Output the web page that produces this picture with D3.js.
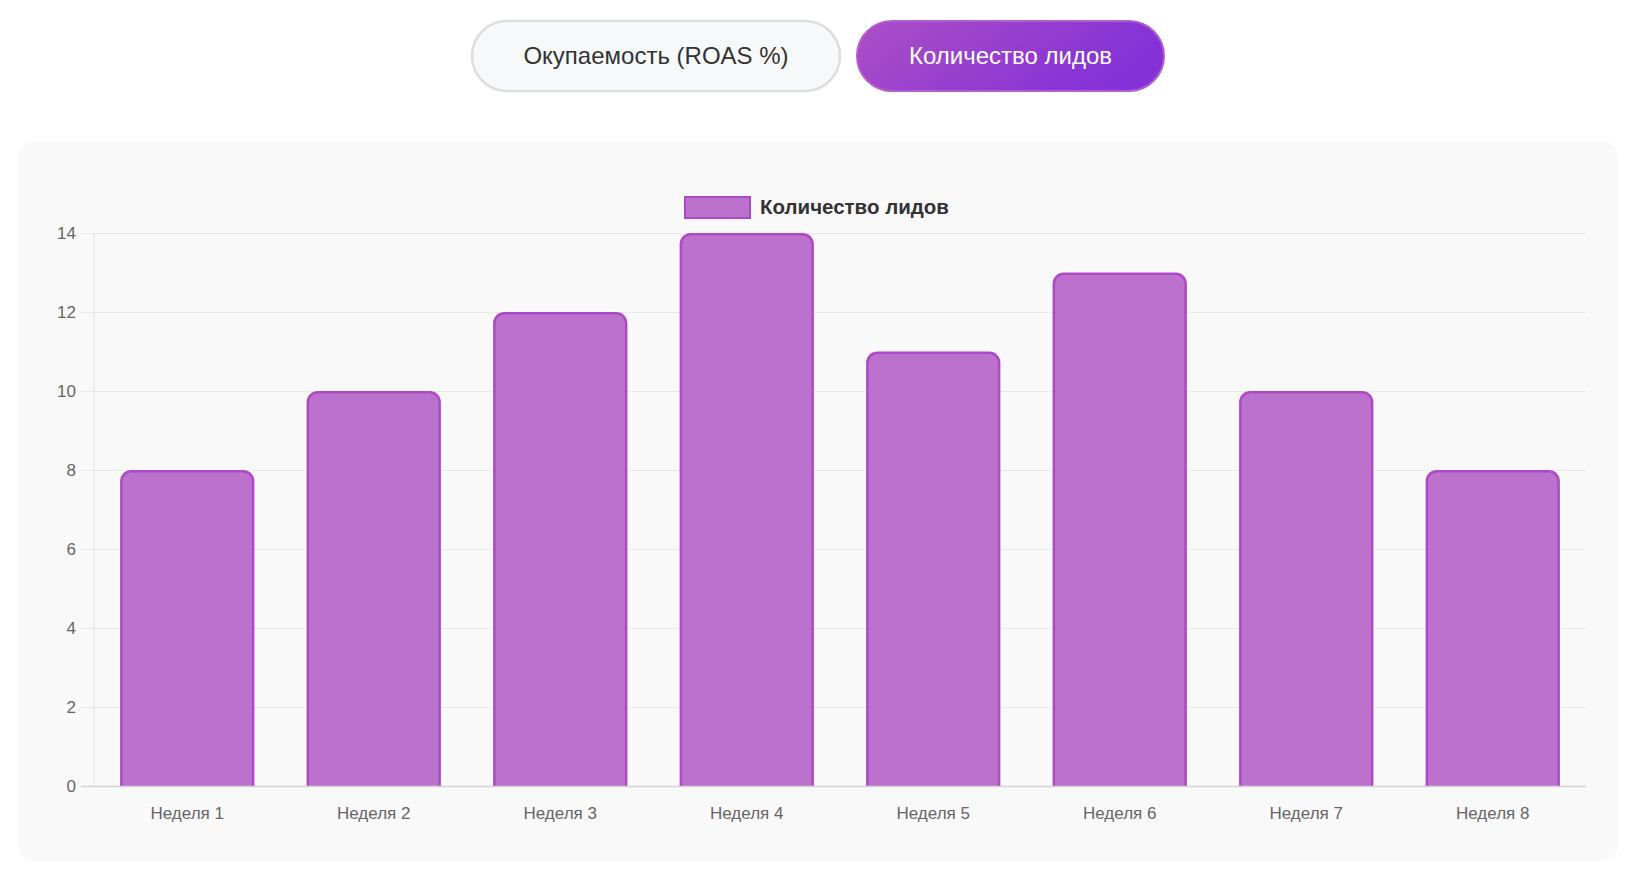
<!DOCTYPE html>
<html>
<head>
<meta charset="utf-8">
<script src="https://cdn.jsdelivr.net/npm/d3@7"></script>
<style>
	body { margin: 0; background: #ffffff; }
	svg { display: block; font-family: "Liberation Sans", Arial, Helvetica, sans-serif; }
</style>
</head>
<body>
<div id="chart"></div>
<script>
var w = 1638;
var h = 874;

var weeks = ["Неделя 1", "Неделя 2", "Неделя 3", "Неделя 4", "Неделя 5", "Неделя 6", "Неделя 7", "Неделя 8"];
var leads = [8, 10, 12, 14, 11, 13, 10, 8];
var yTicks = [0, 2, 4, 6, 8, 10, 12, 14];
var buttonLabels = ["Окупаемость (ROAS %)", "Количество лидов"];
var seriesName = "Количество лидов";

// plot area (window.top is reserved, so no plain "top")
var plotLeft = 94;
var plotRight = 1586;
var plotTop = 233;
var plotBottom = 786;

var barFill = "#bc72cc";
var barStroke = "#ad48c6";

var svg = d3.select("#chart")
				.append("svg")
				.attr("width", w)
				.attr("height", h);

var defs = svg.append("defs");
var grad = defs.append("linearGradient")
				.attr("id", "btnGrad")
				.attr("x1", "0%").attr("y1", "0%")
				.attr("x2", "100%").attr("y2", "30%");
grad.append("stop").attr("offset", "0%").attr("stop-color", "#ab4fc5");
grad.append("stop").attr("offset", "100%").attr("stop-color", "#8431d8");

// toggle buttons
svg.append("rect")
	.attr("x", 472).attr("y", 21)
	.attr("width", 368).attr("height", 70)
	.attr("rx", 35)
	.attr("fill", "#f7f8fa")
	.attr("stroke", "#dedede")
	.attr("stroke-width", 2.5);

svg.append("text")
	.attr("x", 656).attr("y", 56)
	.attr("dy", "0.35em")
	.style("text-anchor", "middle")
	.style("font-size", "24px")
	.attr("fill", "#333")
	.text(buttonLabels[0]);

svg.append("rect")
	.attr("x", 857).attr("y", 21)
	.attr("width", 307).attr("height", 70)
	.attr("rx", 35)
	.attr("fill", "url(#btnGrad)")
	.attr("stroke", "#b45dcc")
	.attr("stroke-width", 2);

svg.append("text")
	.attr("x", 1010.5).attr("y", 56)
	.attr("dy", "0.35em")
	.style("text-anchor", "middle")
	.style("font-size", "24px")
	.attr("fill", "#ffffff")
	.text(buttonLabels[1]);

// card
svg.append("rect")
	.attr("x", 18).attr("y", 141)
	.attr("width", 1600).attr("height", 720)
	.attr("rx", 16)
	.attr("fill", "#f9f9f9");

// legend
svg.append("rect")
	.attr("x", 685).attr("y", 197)
	.attr("width", 65).attr("height", 21)
	.attr("fill", barFill)
	.attr("stroke", barStroke)
	.attr("stroke-width", 2);

svg.append("text")
	.attr("x", 760).attr("y", 207)
	.attr("dy", "0.35em")
	.style("font-size", "20.5px")
	.style("font-weight", "bold")
	.attr("fill", "#333")
	.text(seriesName);

// scales
var xScale = d3.scaleBand()
				.domain(weeks)
				.range([plotLeft, plotRight])
				.paddingInner(0.28)
				.paddingOuter(0.14);

var yScale = d3.scaleLinear()
				.domain([0, 14])
				.range([plotBottom, plotTop]);

var yAxis = d3.axisLeft()
				.scale(yScale)
				.tickValues(yTicks)
				.tickSizeInner(-(plotRight - 81))
				.tickSizeOuter(0)
				.tickPadding(5);

var gy = svg.append("g")
	.attr("class", "axisY")
	.attr("transform", "translate(81,0)")
	.call(yAxis);

gy.select(".domain").remove();
gy.selectAll("line")
	.attr("stroke", "#ebebeb");
gy.selectAll("text")
	.attr("fill", "#666")
	.style("font-size", "17px");

// y axis border
svg.append("line")
	.attr("x1", plotLeft).attr("x2", plotLeft)
	.attr("y1", plotTop).attr("y2", plotBottom)
	.attr("stroke", "#e2e2e2");

// bars, rounded on top, no border at the base
var r = 10;
svg.selectAll("path.bar")
	.data(leads)
	.enter()
	.append("path")
	.attr("class", "bar")
	.attr("d", function(d, i) {
		var x0 = xScale(weeks[i]) + 1.25;
		var x1 = xScale(weeks[i]) + xScale.bandwidth() - 1.25;
		var y0 = yScale(d) + 1.25;
		var yb = plotBottom;
		var p = d3.path();
		p.moveTo(x0, yb);
		p.lineTo(x0, y0 + r);
		p.arcTo(x0, y0, x0 + r, y0, r);
		p.lineTo(x1 - r, y0);
		p.arcTo(x1, y0, x1, y0 + r, r);
		p.lineTo(x1, yb);
		return p.toString();
	})
	.attr("fill", barFill)
	.attr("stroke", barStroke)
	.attr("stroke-width", 2.5);

var xAxis = d3.axisBottom()
				.scale(xScale)
				.tickSize(0)
				.tickPadding(21);

var gx = svg.append("g")
	.attr("class", "axisX")
	.attr("transform", "translate(0," + plotBottom + ")")
	.call(xAxis);

gx.select(".domain").remove();
gx.selectAll("text")
	.attr("fill", "#666")
	.style("font-size", "17px");

svg.append("line")
	.attr("x1", 81).attr("x2", plotRight)
	.attr("y1", plotBottom + 0.5).attr("y2", plotBottom + 0.5)
	.attr("stroke", "#d4d4d4")
	.attr("stroke-width", 1.5);
</script>
</body>
</html>
